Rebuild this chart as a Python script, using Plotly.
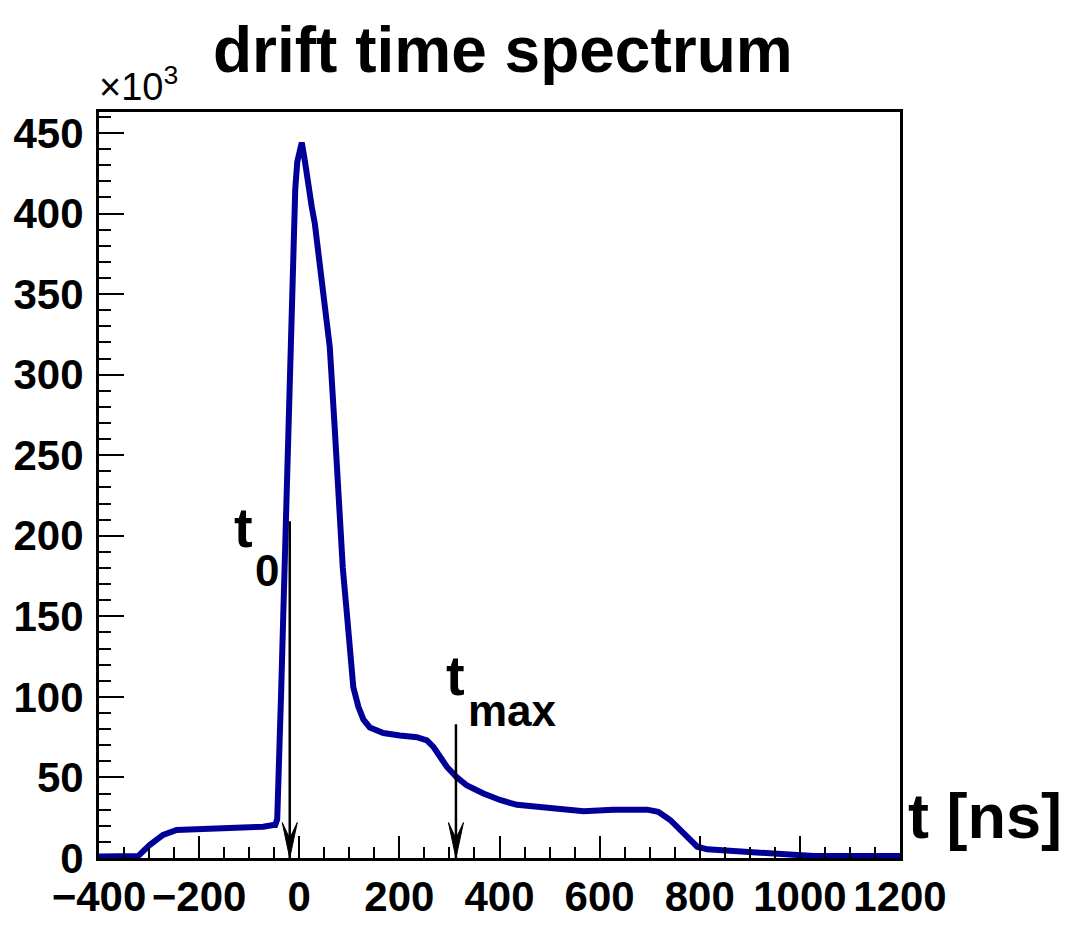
import plotly.graph_objects as go

# ---------------- data ----------------
time_ns = [-400, -350, -322, -299, -272, -245, -205, -139, -72, -52, -48, -44, -40, -36,
           -32, -28, -24, -20, -16, -12, -8, -4, 0, 5, 11, 18, 25, 31, 35, 41, 48, 55,
           61, 71, 77, 82, 87, 95, 101, 108, 118, 128, 141, 168, 201, 235, 255, 268,
           281, 295, 315, 335, 368, 401, 435, 501, 568, 627, 695, 717, 741, 761, 781,
           795, 815, 861, 928, 975, 1028, 1100, 1200]
counts_k = [1, 1, 1.2, 8, 14.3, 17.4, 17.8, 18.4, 19.4, 20.5, 20.5, 24, 55, 105,
            150, 200, 235, 300, 345, 385, 415, 432, 440, 444, 433, 415, 404, 394, 384, 363, 346, 330,
            317, 266, 232, 205, 180, 152, 127, 106, 94, 86, 81, 77.6, 76, 75, 73, 69,
            63, 56.5, 50, 45, 40, 36, 33, 31, 29, 30, 30, 28.7, 23.6, 17.4, 11,
            7, 5.4, 4.5, 3.9, 2.9, 1.2, 1.2, 1.2]

t0_ns = -19          # t0 arrow position
tmax_ns = 313        # tmax arrow position
t0_top_k = 209       # top of t0 arrow
tmax_top_k = 83      # top of tmax arrow

x_range = [-400, 1200]
y_range = [0, 463]

# ---------------- styles ----------------
FONT = "Liberation Sans, Arial, sans-serif"
OFF = 8                      # page body margin
W, H = 1073 - OFF, 925 - OFF
BOX_L, BOX_R, BOX_T, BOX_B = 99, 900, 112, 858   # plot box on screen
ML, MT = BOX_L - OFF, BOX_T - OFF
MR, MB = W - (BOX_R - OFF), H - (BOX_B - OFF)
PW, PH = BOX_R - BOX_L, BOX_B - BOX_T


def px(xp):
    return (xp - BOX_L) / PW


def py(yp):
    return (BOX_B - yp) / PH


fig = go.Figure()
fig.add_trace(go.Scatter(x=time_ns, y=counts_k, mode="lines",
                         line=dict(color="#000099", width=6), showlegend=False))

# arrows (line + narrow head), in data coordinates
head_half_w = 15   # ns
head_len = 22      # thousands
for t, top in [(t0_ns, t0_top_k), (tmax_ns, tmax_top_k)]:
    fig.add_shape(type="line", x0=t, x1=t, y0=top, y1=0, xref="x", yref="y",
                  line=dict(color="black", width=2.5))
    fig.add_shape(type="path", xref="x", yref="y",
                  path=f"M {t - head_half_w},{head_len} L {t},0 L {t + head_half_w},{head_len} "
                       f"L {t},{head_len * 0.55} Z",
                  fillcolor="black", line=dict(color="black", width=1))


def txt(s, xp, yp, size, bold=True, xanchor="left", yanchor="bottom"):
    fig.add_annotation(text=s, x=px(xp), y=py(yp), xref="paper", yref="paper",
                       xanchor=xanchor, yanchor=yanchor, showarrow=False,
                       font=dict(family=FONT, size=size, color="black",
                                 weight="bold" if bold else "normal"))


txt("drift time spectrum", 211, 88, 64)
txt("×10<sup>3</sup>", 97, 110, 38, bold=False)
txt("t [ns]", 906, 853, 63)
txt("t", 232, 561, 56)
txt("0", 253, 597, 44)
txt("t", 444, 709, 56)
txt("max", 466, 737, 44)

axis_common = dict(showline=True, mirror=True, linewidth=3, linecolor="black",
                   ticks="inside", tickcolor="black", tickwidth=1.5, showgrid=False,
                   zeroline=False, tickangle=0, automargin=False,
                   tickfont=dict(family=FONT, size=42, color="black", weight="bold"))

fig.update_xaxes(range=x_range, dtick=200, tick0=0, ticklen=22,
                 minor=dict(dtick=50, ticklen=11, ticks="inside", tickcolor="black", tickwidth=1.5),
                 **axis_common)
fig.update_yaxes(range=y_range, dtick=50, tick0=0, ticklen=25, ticklabelstandoff=4,
                 minor=dict(dtick=10, ticklen=12, ticks="inside", tickcolor="black", tickwidth=1.5),
                 **axis_common)

fig.update_layout(width=W, height=H, margin=dict(l=ML, r=MR, t=MT, b=MB),
                  paper_bgcolor="white", plot_bgcolor="white", showlegend=False)

fig.write_html("out.html")
